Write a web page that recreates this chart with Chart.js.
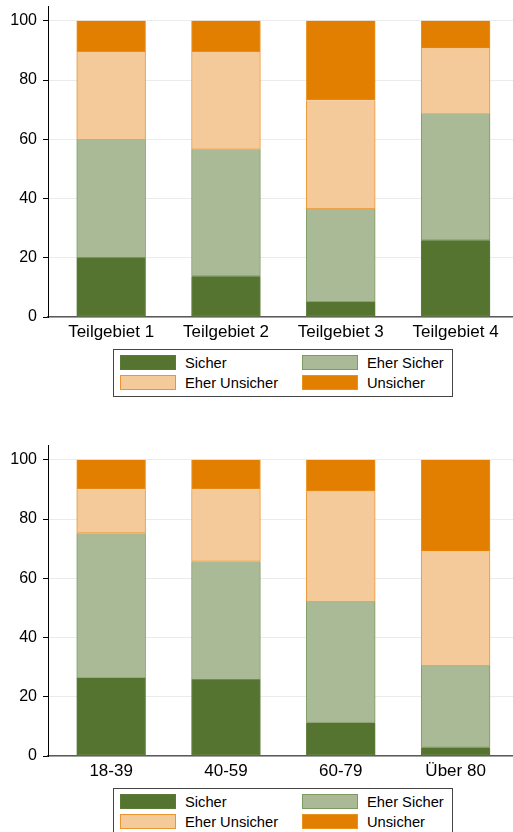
<!DOCTYPE html>
<html lang="de">
<head>
<meta charset="utf-8">
<title>Sicherheitsgefühl</title>
<script src="https://cdn.jsdelivr.net/npm/chart.js@4.4.1/dist/chart.umd.min.js"></script>
<style>
    html, body { margin: 0; padding: 0; background: #fff; }
    body { width: 513px; height: 832px; overflow: hidden; font-family: "Liberation Sans", Arial, sans-serif; }
    .panel { position: relative; width: 513px; height: 439px; }
    .panel canvas { position: absolute; left: 0; top: 0; }
    .legend { position: absolute; left: 113px; top: 349px; width: 338px; height: 46px; border: 1px solid #444; }
    .legend-item { position: absolute; height: 15px; display: flex; align-items: center; font-size: 14.7px; color: #000; white-space: nowrap; }
    .swatch { width: 56px; height: 15px; box-sizing: border-box; border: 1px solid; margin-right: 9px; flex: none; }
</style>
</head>
<body>
<div class="panel"><canvas id="gebietChart" width="513" height="345"></canvas><div class="legend" id="gebietLegend"></div></div>
<div class="panel"><canvas id="alterChart" width="513" height="345"></canvas><div class="legend" id="alterLegend"></div></div>

<script>
// Antwortkategorien
const seriesNames = ['Sicher', 'Eher Sicher', 'Eher Unsicher', 'Unsicher'];

// oberes Diagramm: Teilgebiete (in %)
const gebiete = ['Teilgebiet 1', 'Teilgebiet 2', 'Teilgebiet 3', 'Teilgebiet 4'];
const gebietSicher = [20.0, 13.8, 5.1, 25.9];
const gebietEherSicher = [39.8, 42.8, 31.4, 42.6];
const gebietEherUnsicher = [29.7, 32.9, 36.7, 22.2];
const gebietUnsicher = [10.5, 10.5, 26.8, 9.3];

// unteres Diagramm: Altersgruppen (in %)
const altersgruppen = ['18-39', '40-59', '60-79', 'Über 80'];
const alterSicher = [26.3, 25.8, 11.3, 2.9];
const alterEherSicher = [48.9, 39.9, 40.7, 27.5];
const alterEherUnsicher = [14.9, 24.4, 37.3, 38.7];
const alterUnsicher = [9.9, 9.9, 10.7, 30.9];

const yTicks = [0, 20, 40, 60, 80, 100];

const fillColors = ['#557430', '#abba96', '#f4ca9a', '#e37f00'];
const lineColors = ['#5b7a38', '#7d9a64', '#ea9632', '#ea9220'];
const fontFamily = '"Liberation Sans", Arial, sans-serif';

function drawChart(canvasId, legendId, categories, values) {
    const ctx = document.getElementById(canvasId).getContext('2d');
    const chart = new Chart(ctx, {
        type: 'bar',
        data: {
            datasets: seriesNames.map((name, k) => ({
                label: name,
                data: values[k].map((v, i) => ({x: i, y: v})),
                backgroundColor: fillColors[k],
                borderColor: lineColors[k],
                borderWidth: 1,
                borderSkipped: 'end',
                inflateAmount: 0.3,
                barPercentage: 0.6,
                categoryPercentage: 1
            }))
        },
        options: {
            responsive: false,
            animation: false,
            layout: {padding: {top: 6, left: 0, right: 0, bottom: 0}},
            plugins: {
                legend: {display: false},
                tooltip: {enabled: false}
            },
            scales: {
                x: {
                    type: 'linear',
                    offset: false,
                    stacked: true,
                    min: -0.55,
                    max: 3.5,
                    z: 1,
                    grid: {display: false, drawTicks: false, offset: false},
                    border: {display: true, color: '#5a5a5a', width: 1.5},
                    ticks: {
                        color: '#000',
                        padding: 5,
                        font: {size: 17, family: fontFamily},
                        callback: (v) => categories[v]
                    },
                    afterBuildTicks: (axis) => {
                        axis.ticks = categories.map((c, i) => ({value: i}));
                    },
                    afterFit: (s) => {
                        s.height = 28;
                        s.paddingLeft = 0;
                        s.paddingRight = 0;
                    }
                },
                y: {
                    stacked: true,
                    min: 0,
                    max: 105,
                    grid: {color: '#ebebeb', tickLength: 5, tickColor: '#000'},
                    border: {color: '#000', width: 1},
                    ticks: {
                        color: '#000',
                        padding: 6,
                        font: {size: 16, family: fontFamily}
                    },
                    afterBuildTicks: (axis) => {
                        axis.ticks = yTicks.map(v => ({value: v}));
                    },
                    afterFit: (s) => {
                        s.width = 48;
                        s.paddingTop = 0;
                        s.paddingBottom = 0;
                    }
                }
            }
        }
    });

    // Legende als HTML, zwei Spalten mit Rahmen
    const box = document.getElementById(legendId);
    const items = chart.options.plugins.legend.labels.generateLabels(chart);
    items.forEach((item, k) => {
        const el = document.createElement('div');
        el.className = 'legend-item';
        el.style.left = (k % 2 === 0 ? 6 : 188) + 'px';
        el.style.top = (k < 2 ? 5 : 25) + 'px';
        const sw = document.createElement('span');
        sw.className = 'swatch';
        sw.style.background = item.fillStyle;
        sw.style.borderColor = item.strokeStyle;
        const txt = document.createElement('span');
        txt.textContent = item.text;
        el.appendChild(sw);
        el.appendChild(txt);
        box.appendChild(el);
    });
}

drawChart('gebietChart', 'gebietLegend', gebiete,
    [gebietSicher, gebietEherSicher, gebietEherUnsicher, gebietUnsicher]);
drawChart('alterChart', 'alterLegend', altersgruppen,
    [alterSicher, alterEherSicher, alterEherUnsicher, alterUnsicher]);
</script>
</body>
</html>
